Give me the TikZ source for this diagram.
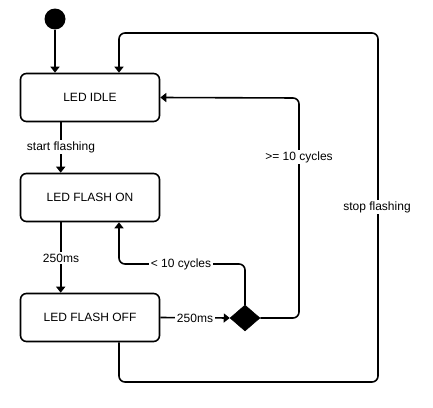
\documentclass[tikz,border=0pt]{standalone}
\usepackage{fontspec}
\setmainfont{Liberation Sans}
\usetikzlibrary{arrows.meta,shapes.geometric,calc}
\begin{document}
\begin{tikzpicture}[x=1pt,y=-1pt,
  statebox/.style={draw=black,line width=1.6pt,rounded corners=6pt,minimum width=139pt,minimum height=48pt,inner sep=0pt,font=\fontsize{12}{14}\selectfont},
  arr/.style={line width=1.6pt,-{Triangle[width=9pt,length=6pt]}},
  conn/.style={line width=1.6pt},
  lbl/.style={fill=white,inner sep=1.5pt,font=\fontsize{12}{14}\selectfont}]
\useasboundingbox (0,0) rectangle (433,407);
\node[circle,fill=black,minimum size=21pt,inner sep=0pt] (init) at (55,19) {};
\node[statebox] (idle) at (90,97.5) {LED IDLE};
\node[statebox] (on) at (90,197.5) {LED FLASH ON};
\node[statebox] (off) at (90,317.5) {LED FLASH OFF};
\node[diamond,fill=black,draw=black,line width=0.5pt,minimum width=30pt,minimum height=26pt,inner sep=0pt] (dec) at (245,318) {};
\coordinate (lt) at (119,264);
\coordinate (gt) at (299,98);
\coordinate (b1) at (119,382);
\coordinate (b2) at (378,382);
\coordinate (b3) at (378,33);
\coordinate (b4) at (119,33);
% connectors
\draw[arr] (init.south) -- (init.south |- idle.north);
\draw[arr] ([xshift=41pt]idle.south west) -- ([xshift=41pt]on.north west);
\draw[arr] ([xshift=41pt]on.south west) -- ([xshift=41pt]off.north west);
\draw[arr] (off.east) -- (dec.west);
\draw[arr,rounded corners=6pt] (dec.north) |- (lt) -- (lt |- on.south);
\draw[arr,rounded corners=6pt] (dec.east) -| (gt) -- (idle.east);
\draw[arr,rounded corners=6pt] (b1 |- off.south) -- (b1) -- (b2) -- (b3) -- (b4) -- (b4 |- idle.north);
% labels
\node[lbl] (l1) at (61,147) {start flashing};
\node[lbl] (l2) at (61,258) {250ms};
\node[lbl] (l3) at (195,318) {250ms};
\node[lbl] (l4) at (181,264) {< 10 cycles};
\node[lbl] (l5) at (299,157) {>= 10 cycles};
\node[lbl] (l6) at (377,207) {stop flashing};
\end{tikzpicture}
\end{document}
